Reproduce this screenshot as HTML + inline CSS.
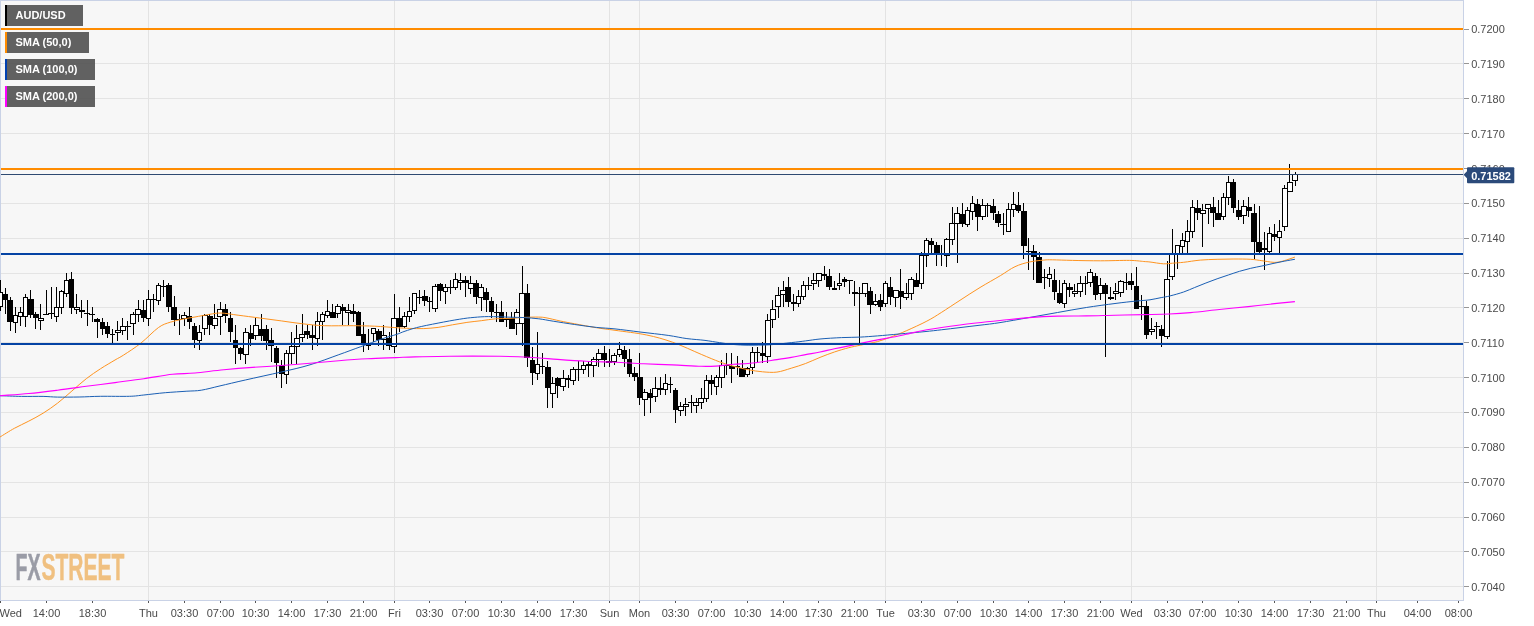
<!DOCTYPE html><html><head><meta charset="utf-8"><title>AUD/USD</title>
<style>html,body{margin:0;padding:0;background:#fff}body{width:1534px;height:626px;overflow:hidden;position:relative;font-family:"Liberation Sans",sans-serif}svg{position:absolute;left:0;top:0;display:block}text{font-family:"Liberation Sans",sans-serif}</style></head><body>
<svg width="1534" height="626" viewBox="0 0 1534 626">
<rect x="0" y="0" width="1534" height="626" fill="#fff"/>
<rect x="0.5" y="0.5" width="1463" height="600" fill="#f7f7f7" stroke="#c9d2e6" stroke-width="1"/>
<g stroke="#e4e4e4" stroke-width="1" shape-rendering="crispEdges">
<line x1="1" y1="29.5" x2="1463" y2="29.5"/>
<line x1="1" y1="63.5" x2="1463" y2="63.5"/>
<line x1="1" y1="98.5" x2="1463" y2="98.5"/>
<line x1="1" y1="133.5" x2="1463" y2="133.5"/>
<line x1="1" y1="168.5" x2="1463" y2="168.5"/>
<line x1="1" y1="203.5" x2="1463" y2="203.5"/>
<line x1="1" y1="238.5" x2="1463" y2="238.5"/>
<line x1="1" y1="273.5" x2="1463" y2="273.5"/>
<line x1="1" y1="307.5" x2="1463" y2="307.5"/>
<line x1="1" y1="342.5" x2="1463" y2="342.5"/>
<line x1="1" y1="377.5" x2="1463" y2="377.5"/>
<line x1="1" y1="412.5" x2="1463" y2="412.5"/>
<line x1="1" y1="447.5" x2="1463" y2="447.5"/>
<line x1="1" y1="482.5" x2="1463" y2="482.5"/>
<line x1="1" y1="517.5" x2="1463" y2="517.5"/>
<line x1="1" y1="551.5" x2="1463" y2="551.5"/>
<line x1="1" y1="586.5" x2="1463" y2="586.5"/>
</g><g stroke="#e3e3e3" stroke-width="1" shape-rendering="crispEdges">
<line x1="148.5" y1="1" x2="148.5" y2="600"/>
<line x1="394.5" y1="1" x2="394.5" y2="600"/>
<line x1="609.5" y1="1" x2="609.5" y2="600"/>
<line x1="639.5" y1="1" x2="639.5" y2="600"/>
<line x1="885.5" y1="1" x2="885.5" y2="600"/>
<line x1="1131.5" y1="1" x2="1131.5" y2="600"/>
<line x1="1376.5" y1="1" x2="1376.5" y2="600"/>
</g>
<g stroke="#969696" stroke-width="1" shape-rendering="crispEdges">
<line x1="1464" y1="29.5" x2="1469" y2="29.5"/>
<line x1="1464" y1="63.5" x2="1469" y2="63.5"/>
<line x1="1464" y1="98.5" x2="1469" y2="98.5"/>
<line x1="1464" y1="133.5" x2="1469" y2="133.5"/>
<line x1="1464" y1="168.5" x2="1469" y2="168.5"/>
<line x1="1464" y1="203.5" x2="1469" y2="203.5"/>
<line x1="1464" y1="238.5" x2="1469" y2="238.5"/>
<line x1="1464" y1="273.5" x2="1469" y2="273.5"/>
<line x1="1464" y1="307.5" x2="1469" y2="307.5"/>
<line x1="1464" y1="342.5" x2="1469" y2="342.5"/>
<line x1="1464" y1="377.5" x2="1469" y2="377.5"/>
<line x1="1464" y1="412.5" x2="1469" y2="412.5"/>
<line x1="1464" y1="447.5" x2="1469" y2="447.5"/>
<line x1="1464" y1="482.5" x2="1469" y2="482.5"/>
<line x1="1464" y1="517.5" x2="1469" y2="517.5"/>
<line x1="1464" y1="551.5" x2="1469" y2="551.5"/>
<line x1="1464" y1="586.5" x2="1469" y2="586.5"/>
</g>
<g font-size="11" fill="#4a4a4a">
<text x="1471.2" y="33">0.7200</text>
<text x="1471.2" y="68">0.7190</text>
<text x="1471.2" y="103">0.7180</text>
<text x="1471.2" y="138">0.7170</text>
<text x="1471.2" y="173">0.7160</text>
<text x="1471.2" y="207">0.7150</text>
<text x="1471.2" y="242">0.7140</text>
<text x="1471.2" y="277">0.7130</text>
<text x="1471.2" y="312">0.7120</text>
<text x="1471.2" y="347">0.7110</text>
<text x="1471.2" y="382">0.7100</text>
<text x="1471.2" y="416">0.7090</text>
<text x="1471.2" y="451">0.7080</text>
<text x="1471.2" y="486">0.7070</text>
<text x="1471.2" y="521">0.7060</text>
<text x="1471.2" y="556">0.7050</text>
<text x="1471.2" y="591">0.7040</text>
</g>
<g stroke="#555" stroke-width="1" shape-rendering="crispEdges">
<line x1="0.5" y1="601" x2="0.5" y2="603"/>
<line x1="46.5" y1="601" x2="46.5" y2="603"/>
<line x1="92.5" y1="601" x2="92.5" y2="603"/>
<line x1="148.5" y1="601" x2="148.5" y2="603"/>
<line x1="184.5" y1="601" x2="184.5" y2="603"/>
<line x1="220.5" y1="601" x2="220.5" y2="603"/>
<line x1="255.5" y1="601" x2="255.5" y2="603"/>
<line x1="291.5" y1="601" x2="291.5" y2="603"/>
<line x1="327.5" y1="601" x2="327.5" y2="603"/>
<line x1="363.5" y1="601" x2="363.5" y2="603"/>
<line x1="394.5" y1="601" x2="394.5" y2="603"/>
<line x1="429.5" y1="601" x2="429.5" y2="603"/>
<line x1="465.5" y1="601" x2="465.5" y2="603"/>
<line x1="501.5" y1="601" x2="501.5" y2="603"/>
<line x1="537.5" y1="601" x2="537.5" y2="603"/>
<line x1="573.5" y1="601" x2="573.5" y2="603"/>
<line x1="609.5" y1="601" x2="609.5" y2="603"/>
<line x1="639.5" y1="601" x2="639.5" y2="603"/>
<line x1="675.5" y1="601" x2="675.5" y2="603"/>
<line x1="711.5" y1="601" x2="711.5" y2="603"/>
<line x1="747.5" y1="601" x2="747.5" y2="603"/>
<line x1="783.5" y1="601" x2="783.5" y2="603"/>
<line x1="818.5" y1="601" x2="818.5" y2="603"/>
<line x1="854.5" y1="601" x2="854.5" y2="603"/>
<line x1="885.5" y1="601" x2="885.5" y2="603"/>
<line x1="921.5" y1="601" x2="921.5" y2="603"/>
<line x1="957.5" y1="601" x2="957.5" y2="603"/>
<line x1="993.5" y1="601" x2="993.5" y2="603"/>
<line x1="1028.5" y1="601" x2="1028.5" y2="603"/>
<line x1="1064.5" y1="601" x2="1064.5" y2="603"/>
<line x1="1100.5" y1="601" x2="1100.5" y2="603"/>
<line x1="1131.5" y1="601" x2="1131.5" y2="603"/>
<line x1="1167.5" y1="601" x2="1167.5" y2="603"/>
<line x1="1202.5" y1="601" x2="1202.5" y2="603"/>
<line x1="1238.5" y1="601" x2="1238.5" y2="603"/>
<line x1="1274.5" y1="601" x2="1274.5" y2="603"/>
<line x1="1310.5" y1="601" x2="1310.5" y2="603"/>
<line x1="1346.5" y1="601" x2="1346.5" y2="603"/>
<line x1="1376.5" y1="601" x2="1376.5" y2="603"/>
<line x1="1417.5" y1="601" x2="1417.5" y2="603"/>
<line x1="1458.5" y1="601" x2="1458.5" y2="603"/>
</g>
<g font-size="11" fill="#4a4a4a" text-anchor="middle">
<text x="-0.5" y="616.5" text-anchor="start">Wed</text>
<text x="46.5" y="616.5">14:00</text>
<text x="92.5" y="616.5">18:30</text>
<text x="148.5" y="616.5">Thu</text>
<text x="184.5" y="616.5">03:30</text>
<text x="220.5" y="616.5">07:00</text>
<text x="255.5" y="616.5">10:30</text>
<text x="291.5" y="616.5">14:00</text>
<text x="327.5" y="616.5">17:30</text>
<text x="363.5" y="616.5">21:00</text>
<text x="394.5" y="616.5">Fri</text>
<text x="429.5" y="616.5">03:30</text>
<text x="465.5" y="616.5">07:00</text>
<text x="501.5" y="616.5">10:30</text>
<text x="537.5" y="616.5">14:00</text>
<text x="573.5" y="616.5">17:30</text>
<text x="609.5" y="616.5">Sun</text>
<text x="639.5" y="616.5">Mon</text>
<text x="675.5" y="616.5">03:30</text>
<text x="711.5" y="616.5">07:00</text>
<text x="747.5" y="616.5">10:30</text>
<text x="783.5" y="616.5">14:00</text>
<text x="818.5" y="616.5">17:30</text>
<text x="854.5" y="616.5">21:00</text>
<text x="885.5" y="616.5">Tue</text>
<text x="921.5" y="616.5">03:30</text>
<text x="957.5" y="616.5">07:00</text>
<text x="993.5" y="616.5">10:30</text>
<text x="1028.5" y="616.5">14:00</text>
<text x="1064.5" y="616.5">17:30</text>
<text x="1100.5" y="616.5">21:00</text>
<text x="1131.5" y="616.5">Wed</text>
<text x="1167.5" y="616.5">03:30</text>
<text x="1202.5" y="616.5">07:00</text>
<text x="1238.5" y="616.5">10:30</text>
<text x="1274.5" y="616.5">14:00</text>
<text x="1310.5" y="616.5">17:30</text>
<text x="1346.5" y="616.5">21:00</text>
<text x="1376.5" y="616.5">Thu</text>
<text x="1417.5" y="616.5">04:00</text>
<text x="1458.5" y="616.5">08:00</text>
</g>
<g shape-rendering="crispEdges"><path d="M0 280h1V311h-1zM-3 292H3V307H-3zM5 288h1V314h-1zM2 294H8V300H2zM10 297h1V331h-1zM7 300H13V322H7zM15 307h1V333h-1zM13 315H18V323H13zM20 307h1V326h-1zM18 312H23V317H18zM25 294h1V327h-1zM23 297H28V317H23zM30 290h1V318h-1zM28 299H34V315H28zM35 312h1V329h-1zM33 314H39V318H33zM40 304h1V330h-1zM38 318H44V321H38zM46 290h1V315h-1zM43 314H49V315H43zM51 287h1V319h-1zM48 313H54V314H48zM56 287h1V322h-1zM54 307H59V317H54zM61 290h1V314h-1zM59 291H64V308H59zM66 273h1V297h-1zM64 280H69V294H64zM71 272h1V314h-1zM69 279H74V308H69zM76 294h1V314h-1zM74 307H80V310H74zM81 300h1V318h-1zM79 310H85V312H79zM87 300h1V326h-1zM84 313H90V314H84zM92 307h1V322h-1zM89 314H95V315H89zM97 318h1V338h-1zM94 319H100V322H94zM102 318h1V335h-1zM100 322H105V329H100zM107 322h1V338h-1zM105 326H110V334H105zM112 329h1V343h-1zM110 334H115V335H110zM117 321h1V341h-1zM115 330H121V333H115zM122 318h1V335h-1zM120 326H126V331H120zM127 321h1V340h-1zM125 326H131V327H125zM133 312h1V335h-1zM130 314H136V324H130zM138 300h1V322h-1zM135 309H141V315H135zM143 300h1V322h-1zM141 310H146V318H141zM148 290h1V326h-1zM146 299H151V319H146zM153 294h1V312h-1zM151 299H156V300H151zM158 283h1V305h-1zM156 285H161V301H156zM163 280h1V297h-1zM161 286H167V287H161zM168 283h1V312h-1zM166 285H172V307H166zM174 296h1V326h-1zM171 307H177V320H171zM179 314h1V335h-1zM176 319H182V320H176zM184 312h1V326h-1zM181 315H187V319H181zM189 307h1V329h-1zM187 316H192V322H187zM194 323h1V348h-1zM192 326H197V340H192zM199 325h1V350h-1zM197 332H202V341H197zM204 314h1V335h-1zM202 315H208V329H202zM209 314h1V335h-1zM207 316H213V325H207zM214 304h1V329h-1zM212 318H218V326H212zM220 302h1V335h-1zM217 309H223V317H217zM225 304h1V323h-1zM222 309H228V316H222zM230 312h1V342h-1zM228 318H233V332H228zM235 325h1V364h-1zM233 340H238V348H233zM240 347h1V360h-1zM238 348H243V354H238zM245 328h1V364h-1zM243 332H249V355H243zM250 325h1V346h-1zM248 333H254V339H248zM255 318h1V340h-1zM253 325H259V336H253zM261 314h1V341h-1zM258 329H264V336H258zM266 325h1V350h-1zM263 329H269V341H263zM271 328h1V362h-1zM268 340H274V346H268zM276 346h1V378h-1zM274 348H279V363H274zM281 360h1V388h-1zM279 365H284V374H279zM286 350h1V384h-1zM284 353H289V375H284zM291 332h1V364h-1zM289 346H295V354H289zM296 325h1V364h-1zM294 338H300V347H294zM302 314h1V342h-1zM299 334H305V338H299zM307 325h1V339h-1zM304 331H310V335H304zM312 325h1V350h-1zM309 335H315V338H309zM317 312h1V346h-1zM315 321H320V339H315zM322 312h1V340h-1zM320 314H325V322H320zM327 300h1V318h-1zM325 311H330V316H325zM332 304h1V318h-1zM330 312H336V318H330zM337 304h1V318h-1zM335 306H341V314H335zM342 304h1V325h-1zM340 307H346V311H340zM348 304h1V325h-1zM345 310H351V313H345zM353 304h1V322h-1zM350 311H356V314H350zM358 311h1V336h-1zM356 312H361V336H356zM363 322h1V352h-1zM361 334H366V345H361zM368 329h1V350h-1zM366 343H371V346H366zM373 328h1V342h-1zM371 328H376V334H371zM378 329h1V346h-1zM376 331H382V340H376zM383 325h1V350h-1zM381 335H387V340H381zM389 332h1V350h-1zM386 338H392V346H386zM394 294h1V353h-1zM391 318H397V347H391zM399 307h1V332h-1zM396 318H402V327H396zM404 312h1V328h-1zM402 316H407V327H402zM409 297h1V322h-1zM407 311H412V317H407zM414 293h1V314h-1zM412 293H417V311H412zM419 290h1V304h-1zM417 297H423V298H417zM424 290h1V306h-1zM422 296H428V301H422zM429 297h1V312h-1zM427 301H433V302H427zM435 284h1V312h-1zM432 286H438V309H432zM440 283h1V301h-1zM437 284H443V291H437zM445 284h1V304h-1zM443 287H448V292H443zM450 280h1V294h-1zM448 287H453V288H448zM455 273h1V290h-1zM453 279H458V288H453zM460 273h1V290h-1zM458 280H463V283H458zM465 276h1V297h-1zM463 280H469V283H463zM470 276h1V294h-1zM468 283H474V289H468zM476 280h1V304h-1zM473 283H479V297H473zM481 284h1V311h-1zM478 287H484V298H478zM486 288h1V312h-1zM483 292H489V300H483zM491 297h1V318h-1zM489 301H494V312H489zM496 304h1V322h-1zM494 312H499V313H494zM501 301h1V322h-1zM499 312H504V322H499zM506 312h1V327h-1zM504 318H510V320H504zM511 312h1V329h-1zM509 318H515V329H509zM516 309h1V335h-1zM514 312H520V324H514zM522 266h1V346h-1zM519 293H525V324H519zM527 284h1V367h-1zM524 293H530V358H524zM532 347h1V385h-1zM530 360H535V373H530zM537 332h1V380h-1zM535 364H540V374H535zM542 353h1V374h-1zM540 366H545V367H540zM547 361h1V408h-1zM545 367H551V388H545zM552 377h1V408h-1zM550 383H556V394H550zM557 377h1V398h-1zM555 378H561V386H555zM563 370h1V391h-1zM560 378H566V387H560zM568 375h1V388h-1zM565 378H571V380H565zM573 367h1V385h-1zM570 369H576V381H570zM578 361h1V381h-1zM576 369H581V370H576zM583 361h1V374h-1zM581 365H586V370H581zM588 361h1V377h-1zM586 364H591V366H586zM593 357h1V377h-1zM591 359H597V366H591zM598 349h1V367h-1zM596 353H602V360H596zM604 346h1V367h-1zM601 353H607V360H601zM609 349h1V367h-1zM606 361H612V363H606zM614 353h1V365h-1zM611 355H617V362H611zM619 342h1V357h-1zM617 349H622V355H617zM624 346h1V367h-1zM622 350H627V359H622zM629 349h1V377h-1zM627 359H632V374H627zM634 367h1V381h-1zM632 373H638V377H632zM639 353h1V405h-1zM637 377H643V398H637zM644 389h1V416h-1zM642 392H648V400H642zM650 389h1V413h-1zM647 393H653V398H647zM655 377h1V402h-1zM652 388H658V397H652zM660 377h1V395h-1zM658 388H663V390H658zM665 374h1V395h-1zM663 383H668V390H663zM670 377h1V393h-1zM668 384H673V385H668zM675 388h1V423h-1zM673 390H678V410H673zM680 402h1V416h-1zM678 406H684V411H678zM685 398h1V416h-1zM683 404H689V407H683zM691 395h1V413h-1zM688 402H694V403H688zM696 398h1V413h-1zM693 402H699V406H693zM701 388h1V409h-1zM698 398H704V403H698zM706 375h1V402h-1zM704 380H709V399H704zM711 375h1V395h-1zM709 380H714V384H709zM716 375h1V395h-1zM714 377H719V387H714zM721 360h1V388h-1zM719 365H725V378H719zM726 353h1V375h-1zM724 365H730V366H724zM731 353h1V383h-1zM729 366H735V369H729zM737 356h1V375h-1zM734 366H740V367H734zM742 360h1V377h-1zM739 368H745V377H739zM747 367h1V377h-1zM745 368H750V375H745zM752 347h1V374h-1zM750 352H755V368H750zM757 347h1V363h-1zM755 352H760V353H755zM762 342h1V363h-1zM760 353H765V356H760zM767 314h1V363h-1zM765 320H771V357H765zM772 300h1V328h-1zM770 309H776V320H770zM778 287h1V318h-1zM775 295H781V307H775zM783 281h1V307h-1zM780 290H786V295H780zM788 277h1V307h-1zM785 287H791V302H785zM793 294h1V311h-1zM791 302H796V304H791zM798 290h1V307h-1zM796 296H801V304H796zM803 281h1V300h-1zM801 285H806V297H801zM808 277h1V290h-1zM806 285H812V286H806zM813 273h1V290h-1zM811 280H817V284H811zM818 273h1V287h-1zM816 273H822V281H816zM824 266h1V280h-1zM821 274H827V276H821zM829 269h1V290h-1zM826 276H832V287H826zM834 281h1V290h-1zM832 288H837V290H832zM839 273h1V290h-1zM837 283H842V286H837zM844 277h1V287h-1zM842 279H847V282H842zM849 280h1V294h-1zM847 280H853V281H847zM854 281h1V306h-1zM852 292H858V294H852zM859 287h1V343h-1zM857 293H863V294H857zM865 283h1V297h-1zM862 283H868V294H862zM870 287h1V314h-1zM867 291H873V305H867zM875 294h1V306h-1zM873 301H878V305H873zM880 294h1V311h-1zM878 300H883V307H878zM885 281h1V307h-1zM883 283H888V304H883zM890 277h1V305h-1zM888 287H893V297H888zM895 290h1V307h-1zM893 290H899V298H893zM900 269h1V309h-1zM898 291H904V297H898zM906 283h1V300h-1zM903 293H909V298H903zM911 277h1V300h-1zM908 279H914V294H908zM916 273h1V287h-1zM913 280H919V287H913zM921 252h1V289h-1zM919 255H924V284H919zM926 238h1V267h-1zM924 240H929V256H924zM931 238h1V254h-1zM929 241H934V245H929zM936 242h1V266h-1zM934 245H940V253H934zM941 245h1V266h-1zM939 254H945V255H939zM946 238h1V267h-1zM944 239H950V256H944zM952 207h1V245h-1zM949 223H955V240H949zM957 207h1V263h-1zM954 213H960V224H954zM962 203h1V227h-1zM960 214H965V224H960zM967 207h1V227h-1zM965 210H970V225H965zM972 196h1V220h-1zM970 203H975V212H970zM977 199h1V231h-1zM975 204H980V217H975zM982 199h1V220h-1zM980 205H986V217H980zM987 203h1V217h-1zM985 205H991V206H985zM993 199h1V220h-1zM990 206H996V213H990zM998 211h1V227h-1zM995 214H1001V223H995zM1003 213h1V235h-1zM1000 224H1006V225H1000zM1008 203h1V232h-1zM1006 209H1011V232H1006zM1013 192h1V217h-1zM1011 204H1016V210H1011zM1018 192h1V213h-1zM1016 205H1021V211H1016zM1023 203h1V259h-1zM1021 211H1027V246H1021zM1028 238h1V270h-1zM1026 251H1032V252H1026zM1033 245h1V280h-1zM1031 251H1037V257H1031zM1039 252h1V283h-1zM1036 257H1042V283H1036zM1044 269h1V289h-1zM1041 277H1047V278H1041zM1049 267h1V287h-1zM1047 274H1052V279H1047zM1054 269h1V300h-1zM1052 280H1057V292H1052zM1059 280h1V304h-1zM1057 293H1062V303H1057zM1064 280h1V308h-1zM1062 283H1067V304H1062zM1069 283h1V297h-1zM1067 287H1073V290H1067zM1074 284h1V297h-1zM1072 291H1078V294H1072zM1080 276h1V297h-1zM1077 283H1083V292H1077zM1085 276h1V295h-1zM1082 283H1088V284H1082zM1090 269h1V287h-1zM1087 272H1093V283H1087zM1095 273h1V300h-1zM1093 276H1098V295H1093zM1100 278h1V300h-1zM1098 285H1103V294H1098zM1105 283h1V357h-1zM1103 285H1108V294H1103zM1110 287h1V300h-1zM1108 297H1114V299H1108zM1115 283h1V300h-1zM1113 291H1119V294H1113zM1120 280h1V297h-1zM1118 281H1124V293H1118zM1126 273h1V290h-1zM1123 282H1129V283H1123zM1131 273h1V290h-1zM1128 281H1134V285H1128zM1136 267h1V309h-1zM1134 286H1139V309H1134zM1141 295h1V320h-1zM1139 306H1144V307H1139zM1146 301h1V339h-1zM1144 306H1149V335H1144zM1151 318h1V335h-1zM1149 329H1155V332H1149zM1156 322h1V339h-1zM1154 326H1160V327H1154zM1161 325h1V347h-1zM1159 329H1165V336H1159zM1167 261h1V339h-1zM1164 279H1170V337H1164zM1172 229h1V280h-1zM1169 253H1175V277H1169zM1177 245h1V269h-1zM1175 245H1180V254H1175zM1182 233h1V255h-1zM1180 240H1185V247H1180zM1187 220h1V253h-1zM1185 231H1190V242H1185zM1192 200h1V238h-1zM1190 207H1195V232H1190zM1197 200h1V220h-1zM1195 208H1201V213H1195zM1202 204h1V247h-1zM1200 210H1206V214H1200zM1208 204h1V224h-1zM1205 204H1211V209H1205zM1213 197h1V227h-1zM1210 207H1216V213H1210zM1218 200h1V220h-1zM1215 213H1221V220H1215zM1223 193h1V220h-1zM1221 197H1226V217H1221zM1228 176h1V205h-1zM1226 182H1231V198H1226zM1233 179h1V213h-1zM1231 182H1236V208H1231zM1238 200h1V220h-1zM1236 210H1242V217H1236zM1243 200h1V224h-1zM1241 206H1247V216H1241zM1248 197h1V217h-1zM1246 207H1252V211H1246zM1254 204h1V259h-1zM1251 213H1257V242H1251zM1259 206h1V255h-1zM1256 242H1262V252H1256zM1264 232h1V270h-1zM1262 248H1267V250H1262zM1269 227h1V255h-1zM1267 233H1272V252H1267zM1274 224h1V241h-1zM1272 234H1277V237H1272zM1279 220h1V255h-1zM1277 231H1282V238H1277zM1284 185h1V231h-1zM1282 188H1288V227H1282zM1289 164h1V192h-1zM1287 182H1293V192H1287zM1295 172h1V186h-1zM1292 174H1298V181H1292z" fill="#000"/><path d="M-2 293H2V306H-2zM14 316H17V322H14zM19 313H22V316H19zM24 298H27V316H24zM39 319H43V320H39zM55 308H58V316H55zM60 292H63V307H60zM65 281H68V293H65zM75 308H79V309H75zM116 331H120V332H116zM121 327H125V330H121zM131 315H135V323H131zM136 310H140V314H136zM147 300H150V318H147zM157 286H160V300H157zM182 316H186V318H182zM198 333H201V340H198zM203 316H207V328H203zM213 319H217V325H213zM218 310H222V316H218zM244 333H248V354H244zM254 326H258V335H254zM285 354H288V374H285zM290 347H294V353H290zM295 339H299V346H295zM300 335H304V337H300zM316 322H319V338H316zM321 315H324V321H321zM326 312H329V315H326zM336 307H340V313H336zM346 311H350V312H346zM367 344H370V345H367zM372 329H375V333H372zM382 336H386V339H382zM392 319H396V346H392zM403 317H406V326H403zM408 312H411V316H408zM413 294H416V310H413zM433 287H437V308H433zM444 288H447V291H444zM454 280H457V287H454zM459 281H462V282H459zM469 284H473V288H469zM479 288H483V297H479zM515 313H519V323H515zM520 294H524V323H520zM536 365H539V373H536zM551 384H555V393H551zM561 379H565V386H561zM571 370H575V380H571zM582 366H585V369H582zM592 360H596V365H592zM597 354H601V359H597zM612 356H616V361H612zM618 350H621V354H618zM643 393H647V399H643zM653 389H657V396H653zM664 384H667V389H664zM679 407H683V410H679zM684 405H688V406H684zM694 403H698V405H694zM699 399H703V402H699zM705 381H708V398H705zM715 378H718V386H715zM720 366H724V377H720zM746 369H749V374H746zM751 353H754V367H751zM766 321H770V356H766zM771 310H775V319H771zM776 296H780V306H776zM781 291H785V294H781zM797 297H800V303H797zM802 286H805V296H802zM812 281H816V283H812zM817 274H821V280H817zM838 284H841V285H838zM863 284H867V293H863zM874 302H877V304H874zM884 284H887V303H884zM894 291H898V297H894zM904 294H908V297H904zM909 280H913V293H909zM920 256H923V283H920zM925 241H928V255H925zM945 240H949V255H945zM950 224H954V239H950zM955 214H959V223H955zM966 211H969V224H966zM971 204H974V211H971zM981 206H985V216H981zM1007 210H1010V231H1007zM1012 205H1015V209H1012zM1048 275H1051V278H1048zM1063 284H1066V303H1063zM1073 292H1077V293H1073zM1078 284H1082V291H1078zM1088 273H1092V282H1088zM1099 286H1102V293H1099zM1114 292H1118V293H1114zM1119 282H1123V292H1119zM1150 330H1154V331H1150zM1165 280H1169V336H1165zM1170 254H1174V276H1170zM1176 246H1179V253H1176zM1181 241H1184V246H1181zM1186 232H1189V241H1186zM1191 208H1194V231H1191zM1201 211H1205V213H1201zM1206 205H1210V208H1206zM1222 198H1225V216H1222zM1227 183H1230V197H1227zM1242 207H1246V215H1242zM1268 234H1271V251H1268zM1278 232H1281V237H1278zM1283 189H1287V226H1283zM1288 183H1292V191H1288zM1293 175H1297V180H1293z" fill="#fff"/></g>
<g fill="none" stroke-width="1" stroke-linejoin="round">
<path d="M0.0 437.0C2.4 435.6 9.6 430.9 14.4 428.3C19.2 425.7 24.0 423.6 28.8 421.1C33.6 418.6 38.3 416.2 43.1 413.2C47.9 410.2 52.7 406.9 57.5 403.2C62.3 399.5 67.1 395.1 71.9 391.0C76.7 386.9 81.5 382.4 86.3 378.7C91.1 375.0 95.8 371.8 100.6 368.7C105.4 365.6 111.2 362.3 115.0 360.0C118.8 357.7 119.4 357.8 123.7 355.0C128.0 352.2 135.0 347.8 140.8 343.2C146.6 338.6 153.6 331.0 158.5 327.5C163.4 324.0 166.2 323.6 170.3 322.2C174.5 320.8 179.3 319.9 183.4 319.0C187.5 318.1 190.7 317.8 195.0 317.0C199.3 316.2 205.1 315.1 209.4 314.4C213.7 313.7 216.1 312.9 220.9 313.0C225.7 313.1 231.6 314.4 238.1 315.2C244.6 316.0 252.5 317.1 259.7 318.0C266.9 318.9 274.1 319.9 281.3 320.9C288.5 321.9 295.6 323.0 302.8 323.8C310.0 324.6 316.0 325.4 324.4 325.7C332.8 326.0 344.8 325.6 353.2 325.7C361.6 325.8 367.5 325.9 374.7 326.2C381.9 326.5 390.5 327.3 396.3 327.7C402.1 328.1 404.8 328.2 409.4 328.4C414.0 328.5 419.0 328.8 423.8 328.6C428.6 328.4 433.3 328.0 438.1 327.4C442.9 326.8 447.7 325.6 452.5 324.8C457.3 324.0 462.1 323.1 466.9 322.4C471.7 321.7 476.5 321.3 481.3 320.7C486.1 320.1 490.8 319.2 495.6 318.8C500.4 318.4 505.2 318.6 510.0 318.4C514.8 318.2 519.6 317.6 524.4 317.4C529.2 317.2 535.2 317.0 538.8 317.1C542.4 317.2 542.4 317.2 546.0 317.8C549.6 318.4 555.5 320.0 560.3 321.0C565.1 322.0 568.7 322.7 574.7 323.8C580.7 324.9 589.6 326.6 596.3 327.7C603.0 328.8 606.6 329.1 615.0 330.3C623.4 331.5 637.1 333.0 646.7 335.0C656.3 337.0 663.4 339.0 672.5 342.2C681.6 345.4 693.5 351.1 701.3 354.4C709.1 357.7 714.0 359.8 719.4 361.8C724.8 363.8 729.0 365.1 733.8 366.4C738.6 367.7 743.3 368.8 748.1 369.7C752.9 370.6 757.7 371.4 762.5 371.8C767.3 372.2 772.1 372.7 776.9 372.1C781.7 371.5 786.5 369.6 791.3 368.2C796.1 366.8 800.8 365.3 805.6 363.5C810.4 361.7 815.2 359.3 820.0 357.4C824.8 355.5 829.6 353.6 834.4 352.0C839.2 350.4 844.5 348.8 848.8 347.7C853.1 346.6 855.5 346.2 860.3 345.2C865.1 344.2 872.2 343.0 877.5 341.6C882.8 340.2 887.1 338.4 891.9 336.6C896.7 334.8 900.5 333.4 906.3 330.8C912.1 328.2 921.1 324.2 926.9 321.1C932.7 318.1 935.8 316.0 941.3 312.5C946.8 309.0 953.5 304.5 960.0 300.3C966.5 296.1 973.2 291.6 980.0 287.5C986.8 283.4 994.8 279.0 1000.6 275.5C1006.4 272.0 1010.2 268.9 1015.0 266.7C1019.8 264.4 1024.6 263.1 1029.4 262.0C1034.2 260.9 1040.0 260.5 1043.8 260.1C1047.6 259.7 1047.6 259.8 1052.4 259.8C1057.2 259.9 1064.5 260.2 1072.5 260.4C1080.5 260.6 1091.1 260.8 1100.6 260.8C1110.1 260.8 1122.2 260.3 1129.4 260.4C1136.6 260.5 1140.4 261.2 1143.8 261.5C1147.2 261.8 1146.7 261.6 1150.0 262.0C1153.3 262.4 1159.7 263.6 1163.4 263.8C1167.2 264.0 1169.1 263.4 1172.5 263.2C1175.9 262.9 1179.0 262.8 1183.6 262.3C1188.2 261.8 1194.7 260.6 1200.3 260.1C1205.9 259.6 1211.5 259.5 1217.1 259.3C1222.7 259.1 1228.3 259.0 1233.9 259.0C1239.5 259.0 1246.0 259.0 1250.7 259.3C1255.4 259.6 1258.2 260.2 1261.9 260.7C1265.6 261.2 1270.2 262.1 1273.0 262.3C1275.8 262.5 1276.7 262.3 1278.6 262.0C1280.5 261.7 1281.5 261.5 1284.2 260.7C1286.9 259.9 1293.1 257.7 1294.9 257.1" stroke="#ff9420"/>
<path d="M0.0 395.7C3.6 395.8 14.4 396.3 21.6 396.4C28.8 396.5 37.1 396.3 43.1 396.4C49.1 396.5 51.5 397.0 57.5 397.1C63.5 397.2 71.9 397.1 79.1 397.0C86.3 396.9 92.2 396.4 100.6 396.3C109.0 396.2 122.2 396.5 129.4 396.3C136.6 396.1 137.8 395.6 143.8 395.0C149.8 394.4 158.1 393.3 165.3 392.7C172.5 392.1 180.9 391.6 186.9 391.2C192.9 390.8 195.8 391.1 201.3 390.2C206.8 389.3 212.7 387.6 220.0 385.9C227.3 384.2 235.1 382.3 245.3 380.0C255.5 377.7 270.5 374.5 281.3 372.0C292.1 369.5 300.4 367.7 310.0 364.8C319.6 361.9 330.4 357.7 338.8 354.7C347.2 351.7 353.2 349.4 360.4 346.8C367.6 344.2 375.9 340.9 381.9 338.9C387.9 336.8 392.4 335.8 396.3 334.5C400.2 333.2 401.6 332.3 405.0 331.2C408.4 330.1 411.1 329.0 416.6 327.6C422.1 326.2 430.9 324.5 438.1 323.1C445.3 321.7 453.7 320.1 459.7 319.2C465.7 318.2 469.3 317.8 474.1 317.4C478.9 317.0 482.5 316.6 488.5 316.6C494.5 316.6 504.0 317.0 510.0 317.2C516.0 317.4 519.6 317.3 524.4 317.6C529.2 317.9 534.0 318.2 538.8 318.8C543.6 319.4 547.2 320.2 553.2 321.2C559.2 322.1 567.5 323.5 574.7 324.5C581.9 325.5 589.6 326.7 596.3 327.4C603.0 328.1 607.7 328.1 615.0 328.9C622.3 329.7 631.1 330.9 640.0 332.0C648.9 333.1 660.4 334.3 668.2 335.4C676.0 336.5 680.8 337.8 686.9 338.6C693.0 339.4 699.6 339.7 705.0 340.4C710.4 341.1 714.6 341.9 719.4 342.6C724.2 343.3 729.0 344.1 733.8 344.5C738.6 344.9 742.1 345.1 748.1 345.2C754.1 345.2 762.5 345.2 769.7 344.8C776.9 344.4 785.3 343.2 791.3 342.6C797.3 342.0 800.8 341.5 805.6 340.9C810.4 340.3 814.0 339.6 820.0 339.0C826.0 338.4 834.9 337.9 841.6 337.6C848.3 337.3 854.3 337.4 860.3 337.1C866.3 336.8 871.0 336.4 877.5 335.9C884.0 335.4 891.2 334.7 899.1 334.0C907.0 333.3 918.0 332.3 925.0 331.6C932.0 330.9 935.5 330.5 941.3 329.8C947.1 329.1 953.5 328.4 960.0 327.6C966.5 326.8 973.3 326.0 980.0 325.2C986.7 324.4 991.9 323.9 1000.0 322.6C1008.1 321.3 1019.2 319.3 1028.8 317.6C1038.4 315.9 1047.9 314.2 1057.5 312.5C1067.1 310.8 1076.7 309.0 1086.3 307.5C1095.9 306.0 1106.6 304.6 1115.0 303.5C1123.4 302.4 1130.8 301.6 1136.6 301.0C1142.4 300.4 1145.9 300.4 1150.0 299.8C1154.1 299.2 1157.9 298.2 1161.2 297.6C1164.5 297.0 1166.4 296.8 1170.1 295.9C1173.8 295.0 1179.5 293.4 1183.6 292.0C1187.7 290.6 1191.0 289.0 1194.7 287.5C1198.4 286.0 1202.2 284.4 1205.9 283.0C1209.6 281.6 1213.4 280.1 1217.1 278.8C1220.8 277.5 1224.6 276.2 1228.3 275.0C1232.0 273.8 1235.8 272.4 1239.5 271.3C1243.2 270.2 1247.0 269.2 1250.7 268.3C1254.4 267.4 1258.2 266.8 1261.9 266.0C1265.6 265.2 1269.3 264.3 1273.0 263.5C1276.7 262.7 1280.5 261.9 1284.2 261.2C1287.9 260.5 1293.1 259.6 1294.9 259.3" stroke="#1a5fb4"/>
<path d="M0.0 395.7C4.8 395.3 19.2 394.4 28.8 393.5C38.4 392.6 47.9 391.4 57.5 390.2C67.1 389.0 76.7 387.6 86.3 386.3C95.9 385.0 105.4 383.9 115.0 382.6C124.6 381.3 134.2 380.1 143.8 378.7C153.4 377.3 164.0 375.2 172.5 374.3C181.0 373.4 186.4 373.8 195.0 373.0C203.6 372.2 214.2 370.7 223.8 369.8C233.4 368.9 242.9 368.1 252.5 367.4C262.1 366.7 271.7 366.2 281.3 365.5C290.9 364.8 300.4 364.1 310.0 363.3C319.6 362.5 329.2 361.5 338.8 360.7C348.4 359.9 357.9 359.2 367.5 358.7C377.1 358.2 388.4 357.9 396.3 357.6C404.2 357.3 406.1 357.1 415.0 356.9C423.9 356.7 435.8 356.3 450.0 356.2C464.2 356.1 486.9 356.1 500.0 356.3C513.1 356.5 519.2 356.8 528.8 357.3C538.4 357.8 547.9 358.7 557.5 359.4C567.1 360.1 576.7 360.8 586.3 361.3C595.9 361.8 605.4 361.9 615.0 362.3C624.6 362.7 634.2 363.4 643.8 363.8C653.4 364.2 662.9 364.5 672.5 364.9C682.1 365.3 694.1 366.1 701.3 366.3C708.5 366.5 710.3 366.4 715.7 366.1C721.1 365.8 728.4 364.7 733.8 364.3C739.2 363.9 743.3 363.9 748.1 363.5C752.9 363.1 757.7 362.4 762.5 361.8C767.3 361.2 772.1 360.3 776.9 359.6C781.7 358.9 786.5 358.2 791.3 357.4C796.1 356.6 800.8 355.5 805.6 354.6C810.4 353.7 815.2 353.0 820.0 352.0C824.8 351.0 829.6 349.8 834.4 348.8C839.2 347.8 844.0 346.9 848.8 345.9C853.6 344.9 858.4 343.8 863.2 342.8C868.0 341.8 872.7 340.8 877.5 339.9C882.3 339.0 887.1 338.2 891.9 337.3C896.7 336.4 900.5 335.4 906.3 334.2C912.1 332.9 917.9 331.3 926.9 329.8C935.9 328.3 947.8 326.6 960.0 325.0C972.2 323.4 988.5 321.7 1000.0 320.5C1011.5 319.3 1019.2 318.3 1028.8 317.6C1038.4 316.9 1047.9 316.4 1057.5 316.1C1067.1 315.8 1076.7 316.0 1086.3 315.9C1095.9 315.8 1105.4 315.4 1115.0 315.2C1124.6 315.0 1134.8 314.8 1143.8 314.6C1152.8 314.4 1161.3 314.3 1169.1 314.0C1176.9 313.7 1182.2 313.4 1190.6 312.6C1199.0 311.9 1209.8 310.5 1219.4 309.5C1229.0 308.5 1238.6 307.6 1248.2 306.6C1257.8 305.6 1269.1 304.2 1276.9 303.4C1284.7 302.6 1291.9 301.9 1294.9 301.6" stroke="#ff00ff" stroke-width="1.1"/>
</g>
<g shape-rendering="crispEdges">
<rect x="1" y="28" width="1462" height="2" fill="#ff8c00"/>
<rect x="1" y="168" width="1462" height="2" fill="#ff8c00"/>
</g><rect x="1" y="174" width="1462" height="1" fill="#2e4a72"/><g shape-rendering="crispEdges">
<rect x="1" y="253" width="1462" height="2" fill="#0443a4"/>
<rect x="1" y="343" width="1462" height="2" fill="#0443a4"/>
</g>
<rect x="5" y="5" width="78" height="21" fill="rgba(80,80,80,0.9)"/><rect x="5" y="5" width="2" height="21" fill="#000"/>
<text x="15.5" y="19.4" font-size="11" font-weight="bold" fill="#fff">AUD/USD</text>
<rect x="5" y="32" width="84" height="21" fill="rgba(80,80,80,0.9)"/><rect x="5" y="32" width="2" height="21" fill="#ff8c00"/>
<text x="15.5" y="46.4" font-size="11" font-weight="bold" fill="#fff">SMA (50,0)</text>
<rect x="5" y="59" width="90" height="21" fill="rgba(80,80,80,0.9)"/><rect x="5" y="59" width="2" height="21" fill="#0040b0"/>
<text x="15.5" y="73.4" font-size="11" font-weight="bold" fill="#fff">SMA (100,0)</text>
<rect x="5" y="86" width="90" height="21" fill="rgba(80,80,80,0.9)"/><rect x="5" y="86" width="2" height="21" fill="#ff00ff"/>
<text x="15.5" y="100.4" font-size="11" font-weight="bold" fill="#fff">SMA (200,0)</text>
<g font-weight="bold" font-size="37.2" stroke-width="0.5" stroke-linejoin="round">
<text x="15.6" y="580.1"  fill="#9a9ca6" stroke="#9a9ca6" textLength="25" lengthAdjust="spacingAndGlyphs">FX</text>
<text x="41.4" y="580.1"  fill="#f0c080" stroke="#f0c080" textLength="83" lengthAdjust="spacingAndGlyphs">STREET</text>
</g>
<rect x="1467" y="167.2" width="47.3" height="16" rx="1" fill="#2b4a7a"/><path d="M1463.6 174.7 L1467.2 171 V178.4 Z" fill="#2b4a7a"/>
<text x="1471.2" y="179.6" font-size="11" font-weight="bold" fill="#fff">0.71582</text>
</svg></body></html>
